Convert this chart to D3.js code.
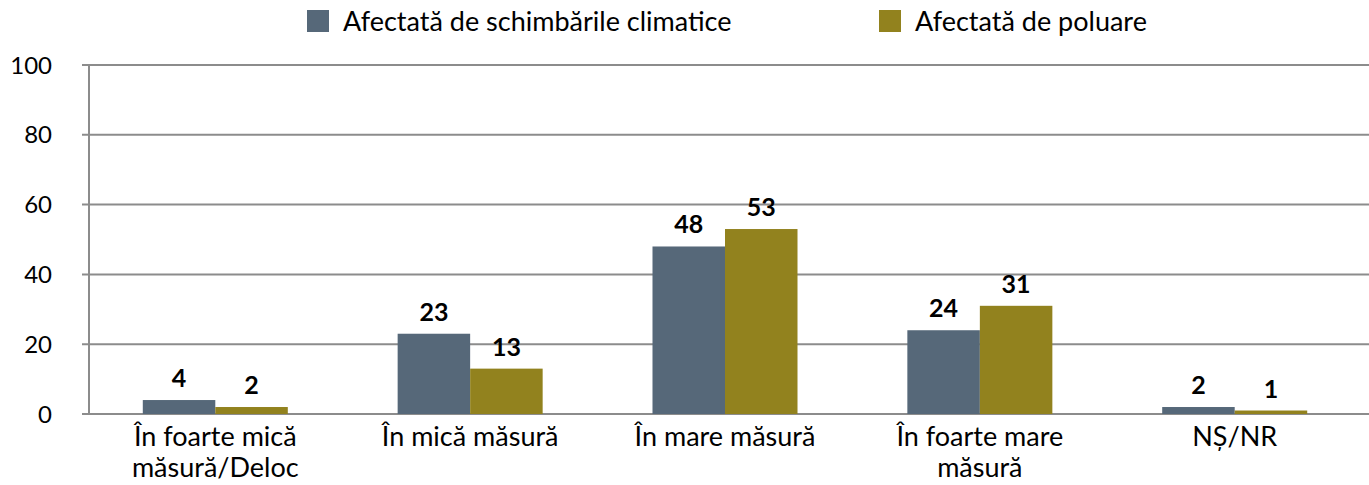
<!DOCTYPE html>
<html><head><meta charset="utf-8">
<script src="https://cdn.jsdelivr.net/npm/d3@7"></script>
<style>body{margin:0;background:#fff}svg{display:block}text{font-family:Lato,'Open Sans',sans-serif;fill:#000}</style>
</head><body><svg id="c" width="1369" height="485"></svg>
<script>
const categories = [["În foarte mică","măsură/Deloc"],["În mică măsură"],["În mare măsură"],["În foarte mare","măsură"],["NȘ/NR"]];
const seriesNames = ["Afectată de schimbările climatice","Afectată de poluare"];
const climate = [4, 23, 48, 24, 2];
const pollution = [2, 13, 53, 31, 1];
const yTicks = [0,20,40,60,80,100];
const colors = ["#566879","#92821e"];

const svg = d3.select("#c");
const m = {l:88, r:1362, t:65, b:414};
const x0 = d3.scaleBand().domain(d3.range(categories.length)).range([m.l,m.r]).paddingInner(0.431).paddingOuter(0.215);
const x1 = d3.scaleBand().domain([0,1]).range([0,x0.bandwidth()]);
const y = d3.scaleLinear().domain([0,100]).range([m.b,m.t]);

// grid
svg.append("g").selectAll("line").data(yTicks).join("line")
  .attr("x1",m.l-6).attr("x2",1369).attr("y1",d=>y(d)).attr("y2",d=>y(d))
  .attr("stroke","#8c8c8c").attr("stroke-width",2);
svg.append("line").attr("x1",m.l+1).attr("x2",m.l+1).attr("y1",m.t).attr("y2",m.b+1).attr("stroke","#8c8c8c").attr("stroke-width",2);
svg.append("g").selectAll("text").data(yTicks).join("text")
  .attr("x",52).attr("y",d=>y(d)).attr("dy","0.36em").attr("text-anchor","end")
  .style("font-size","24px").text(d=>d);

const series = [climate, pollution];
series.forEach((vals,si)=>{
  const g = svg.append("g");
  g.selectAll("rect").data(vals).join("rect")
    .attr("x",(d,i)=>x0(i)+x1(si)).attr("width",x1.bandwidth())
    .attr("y",d=>y(d)).attr("height",d=>m.b-y(d)).attr("fill",colors[si]);
  g.selectAll("text").data(vals).join("text")
    .attr("x",(d,i)=>x0(i)+x1(si)+x1.bandwidth()/2).attr("y",d=>y(d)-13)
    .attr("text-anchor","middle").style("font-size","25px").style("font-weight","bold").text(d=>d);
});

// x labels
const xl = svg.append("g");
categories.forEach((lines,i)=>{
  const cx = x0(i)+x0.bandwidth()/2;
  const t = xl.append("text").attr("x",cx).attr("y",446).attr("text-anchor","middle").style("font-size","27px");
  lines.forEach((ln,j)=>t.append("tspan").attr("x",cx).attr("dy",j?31:0).text(ln));
});

// legend
const lx = [307, 879];
seriesNames.forEach((n,i)=>{
  svg.append("rect").attr("x",lx[i]).attr("y",10).attr("width",22).attr("height",22).attr("fill",colors[i]);
  svg.append("text").attr("x",lx[i]+36).attr("y",21).attr("dy","0.36em").style("font-size","27px").text(n);
});
</script></body></html>
